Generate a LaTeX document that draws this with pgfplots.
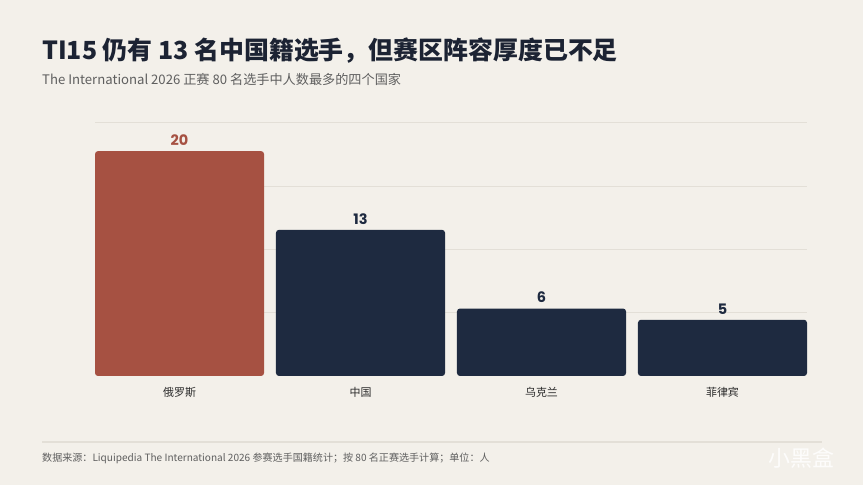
\documentclass[border=0pt]{standalone}
\usepackage{fontspec}
\usepackage{pgfplots}
\pgfplotsset{compat=1.18}
\setmainfont{Noto Sans CJK SC}
\newfontfamily\numfont{Poppins}
\definecolor{bg}{HTML}{F3F0EA}
\definecolor{rust}{HTML}{A65142}
\definecolor{navy}{HTML}{1E2A40}
\definecolor{titlec}{HTML}{1C2333}
\definecolor{subc}{HTML}{5F5F5F}
\definecolor{gridc}{HTML}{E3DFD7}
\definecolor{labc}{HTML}{2A2A2A}
\begin{document}
\begin{tikzpicture}[x=1bp,y=1bp]
\fill[bg] (0,0) rectangle (863,485);
% title
\node[anchor=base west,inner sep=0,text=titlec,font=\fontsize{25}{30}\selectfont\bfseries] at (42,425) {TI15 仍有 13 名中国籍选手，但赛区阵容厚度已不足};
\node[anchor=base west,inner sep=0,text=subc,font=\fontsize{13.2}{15}\selectfont] at (42,400) {The International 2026 正赛 80 名选手中人数最多的四个国家};
% footer
\draw[gridc,line width=1.2bp] (42,43) -- (822,43);
\node[anchor=base west,inner sep=0,text=subc,font=\fontsize{10.1}{12}\selectfont] at (42,23.5) {数据来源：Liquipedia The International 2026 参赛选手国籍统计；按 80 名正赛选手计算；单位：人};
\node[anchor=base west,inner sep=0,text=white,opacity=0.85,font=\fontsize{22}{26}\selectfont] at (768,18) {小黑盒};
\begin{axis}[
  at={(95bp,109bp)}, anchor=south west,
  scale only axis, width=712bp, height=253bp,
  xmin=-0.467, xmax=3.467, ymin=0, ymax=22.5,
  axis line style={draw=none},
  ytick={5.625,11.25,16.875,22.5}, yticklabels={},
  ymajorgrids, grid style={gridc,line width=1bp},
  major tick length=0pt,
  xtick={0,1,2,3},
  xticklabels={俄罗斯,中国,乌克兰,菲律宾},
  xticklabel style={font=\fontsize{11}{13}\selectfont, text=labc, yshift=-8bp},
  ybar, bar width=0.934,
  clip=false,
  /pgf/number format/assume math mode=true,
  nodes near coords,
  nodes near coords style={font=\numfont\fontsize{14.5}{16}\selectfont\bfseries, yshift=2bp},
]
\addplot[bar shift=0pt, fill=rust, draw=none, rounded corners=3bp, nodes near coords style={text=rust}] coordinates {(0,20)};
\addplot[bar shift=0pt, fill=navy, draw=none, rounded corners=3bp, nodes near coords style={text=navy}] coordinates {(1,13) (2,6) (3,5)};
\end{axis}
\end{tikzpicture}
\end{document}
